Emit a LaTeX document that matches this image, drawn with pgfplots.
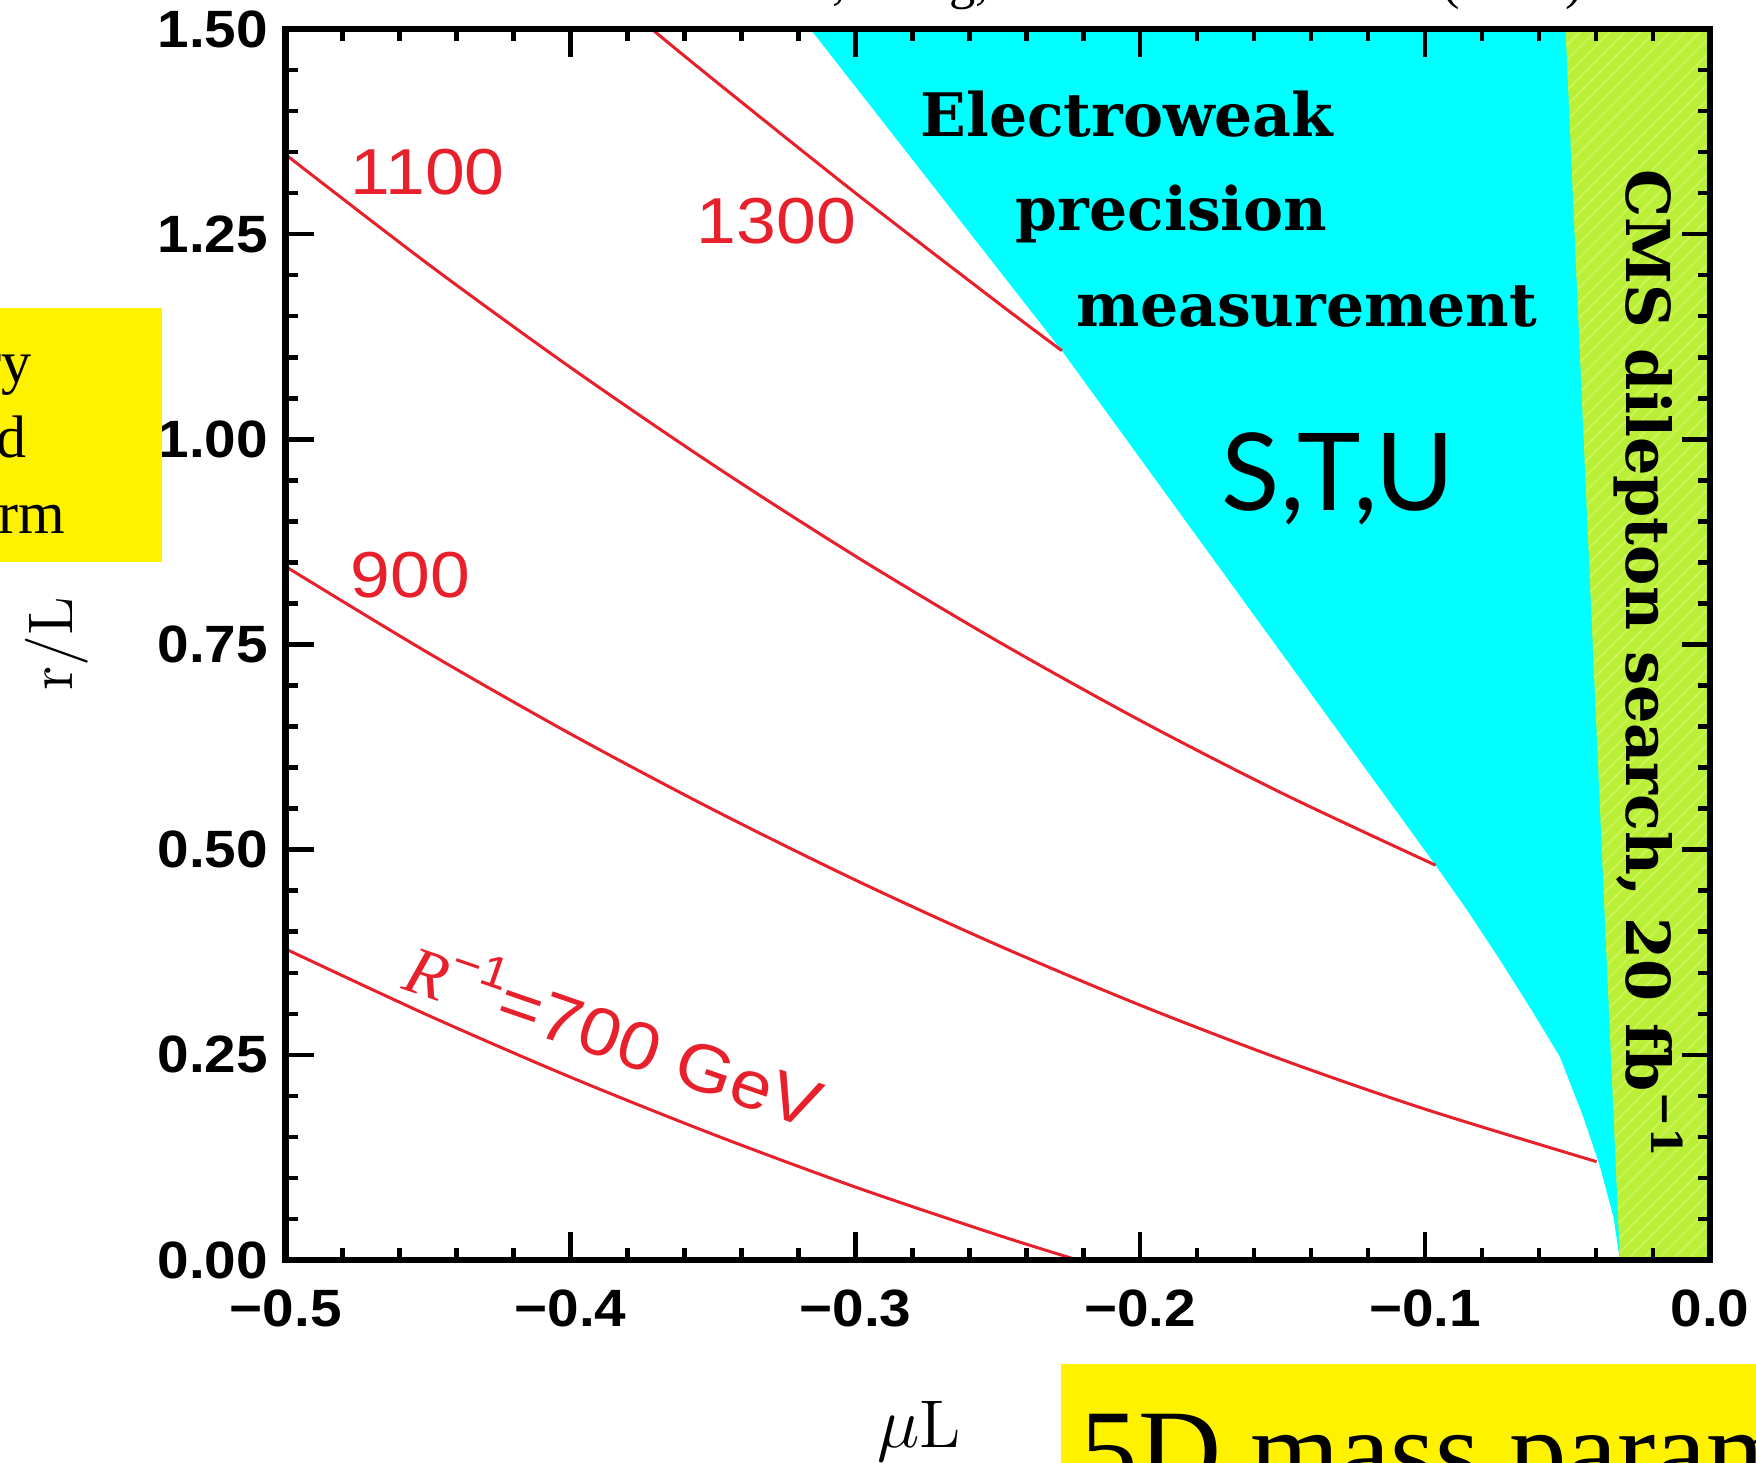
\documentclass[border=0pt]{standalone}
\usepackage{pgfplots}
\pgfplotsset{compat=1.18}
\usetikzlibrary{patterns}
\usepackage{fontspec}
\newfontfamily\tickfont{Liberation Sans}[FakeStretch=1.08]
\newfontfamily\redfont{Liberation Sans}[FakeStretch=1.1]
\newfontfamily\labfont{DejaVu Serif}
\newfontfamily\stufont{Lato}
\newfontfamily\timesfont{Liberation Serif}

\definecolor{cmsgreen}{RGB}{185,240,55}
\definecolor{hatchcol}{RGB}{205,245,85}
\definecolor{ewcyan}{RGB}{0,255,255}
\definecolor{cred}{RGB}{232,32,44}

\begin{document}
\begin{tikzpicture}
\path[use as bounding box] (0,0) rectangle (351.2pt,292.4pt);
\clip (0,0) rectangle (351.2pt,292.4pt);
\begin{axis}[
  at={(57.12pt,40.4pt)}, anchor=south west,
  scale only axis, width=284.88pt, height=246.2pt,
  xmin=-0.5, xmax=0, ymin=0, ymax=1.5,
  axis on top,
  axis line style={line width=1.3pt},
  tick style={line width=0.9pt, black},
  tick align=inside, tick pos=both,
  major tick length=5.6pt, minor tick length=2.4pt,
  xtick={-0.5,-0.4,-0.3,-0.2,-0.1,0},
  xticklabels={−0.5,−0.4,−0.3,−0.2,−0.1,0.0},
  ytick={0,0.25,0.5,0.75,1,1.25,1.5},
  yticklabels={0.00,0.25,0.50,0.75,1.00,1.25,1.50},
  minor x tick num=4, minor y tick num=4,
  ticklabel style={font=\tickfont\bfseries\fontsize{10.5}{12}\selectfont},
  xticklabel style={yshift=-2.5pt},
]
% electroweak precision excluded region
\addplot[fill=ewcyan, draw=none] coordinates {
  (-0.3158,1.5) (-0.2275,1.108) (-0.0963,0.481) (-0.0850,0.425)
  (-0.0737,0.3655) (-0.0627,0.305) (-0.0527,0.2477) (-0.0445,0.1746)
  (-0.0386,0.1137) (-0.0339,0.0528) (-0.0316,0) (0,0) (0,1.5)} -- cycle;
% CMS dilepton excluded region
\addplot[fill=cmsgreen, draw=none] coordinates {
  (-0.0507,1.5) (0,1.5) (0,0) (-0.0316,0)} -- cycle;
\addplot[pattern=north east lines, pattern color=hatchcol, draw=none] coordinates {
  (-0.0507,1.5) (0,1.5) (0,0) (-0.0316,0)} -- cycle;
% R^-1 contours
\addplot[cred, line width=0.6pt, smooth] coordinates {
  (-0.5,0.379) (-0.45,0.2982) (-0.40,0.2228) (-0.35,0.1532) (-0.30,0.0889) (-0.25,0.0304) (-0.222,0.0)};
\addplot[cred, line width=0.6pt, smooth] coordinates {
  (-0.5,0.845) (-0.45,0.7399) (-0.40,0.6411) (-0.35,0.5489) (-0.30,0.4630) (-0.25,0.3836)
  (-0.20,0.3105) (-0.15,0.2439) (-0.10,0.1838) (-0.0398,0.1198)};
\addplot[cred, line width=0.6pt, smooth] coordinates {
  (-0.5,1.347) (-0.45,1.2136) (-0.40,1.0876) (-0.35,0.9690) (-0.30,0.8577) (-0.25,0.7539)
  (-0.20,0.6574) (-0.15,0.5684) (-0.0963,0.481)};
\addplot[cred, line width=0.6pt, smooth] coordinates {
  (-0.3715,1.5) (-0.35,1.4389) (-0.30,1.3002) (-0.25,1.1666) (-0.2275,1.108)};
\end{axis}
\begin{scope}[x=0.2pt,y=0.2pt]
  % top reference line (mostly cut off)
  \node[anchor=base east, inner sep=0, font=\timesfont\fontsize{10.5}{12}\selectfont] at (990,1464) {T. Flacke, Kong,};
  \node[anchor=base west, inner sep=0, font=\timesfont\fontsize{10.5}{12}\selectfont] at (1442,1464) {(2013)};
  % left yellow box
  \fill[yellow] (0,900) rectangle (162,1154);
  \node[anchor=base east, inner sep=0, font=\timesfont\fontsize{12}{14}\selectfont] at (32,1080) {Boundary};
  \node[anchor=base east, inner sep=0, font=\timesfont\fontsize{12}{14}\selectfont] at (27,1005) {localized};
  \node[anchor=base east, inner sep=0, font=\timesfont\fontsize{12}{14}\selectfont] at (66,929) {kinetic term};
  % bottom yellow box
  \fill[yellow] (1061,-10) rectangle (1800,98);
  \node[anchor=base west, inner sep=0, font=\timesfont\fontsize{23}{26}\selectfont] at (1080,-27) {5D mass parameter};
  % axis labels
  \node[rotate=90, anchor=base, inner sep=0, font=\fontsize{12.6}{14}\selectfont] at (72,818) {r/L};
  \node[anchor=base, inner sep=0, font=\fontsize{13.5}{15}\selectfont] at (919,15) {$\mu$L};
  % contour labels
  \node[anchor=base west, inner sep=0, text=cred, font=\redfont\fontsize{13}{15}\selectfont] at (350,1268) {1100};
  \node[anchor=base west, inner sep=0, text=cred, font=\redfont\fontsize{13}{15}\selectfont] at (696,1219) {1300};
  \node[anchor=base west, inner sep=0, text=cred, font=\redfont\fontsize{13}{15}\selectfont] at (350,865) {900};
  \node[anchor=base west, inner sep=0, rotate=-19, text=cred, font=\redfont\fontsize{13.5}{16}\selectfont] at (400,474)
    {{\timesfont\itshape R}\raisebox{0.45em}{\fontsize{9}{9}\selectfont −1}=700 GeV};
  % region labels
  \node[anchor=base west, inner sep=0, font=\labfont\bfseries\fontsize{12}{14}\selectfont] at (919.5,1325.3) {Electroweak};
  \node[anchor=base west, inner sep=0, font=\labfont\bfseries\fontsize{12}{14}\selectfont] at (1015,1232) {precision};
  \node[anchor=base west, inner sep=0, font=\labfont\bfseries\fontsize{12}{14}\selectfont] at (1075.6,1135.3) {measurement};
  \node[anchor=base west, inner sep=0, font=\stufont\fontsize{21.5}{25}\selectfont] at (1221,952) {S,T,U};
  \node[anchor=base west, inner sep=0, rotate=-90, font=\labfont\bfseries\fontsize{12.1}{14}\selectfont] at (1627,1294)
    {CMS dilepton search, 20 fb\raisebox{0.4em}{\fontsize{8.5}{8.5}\selectfont −1}};
\end{scope}
\end{tikzpicture}
\end{document}
